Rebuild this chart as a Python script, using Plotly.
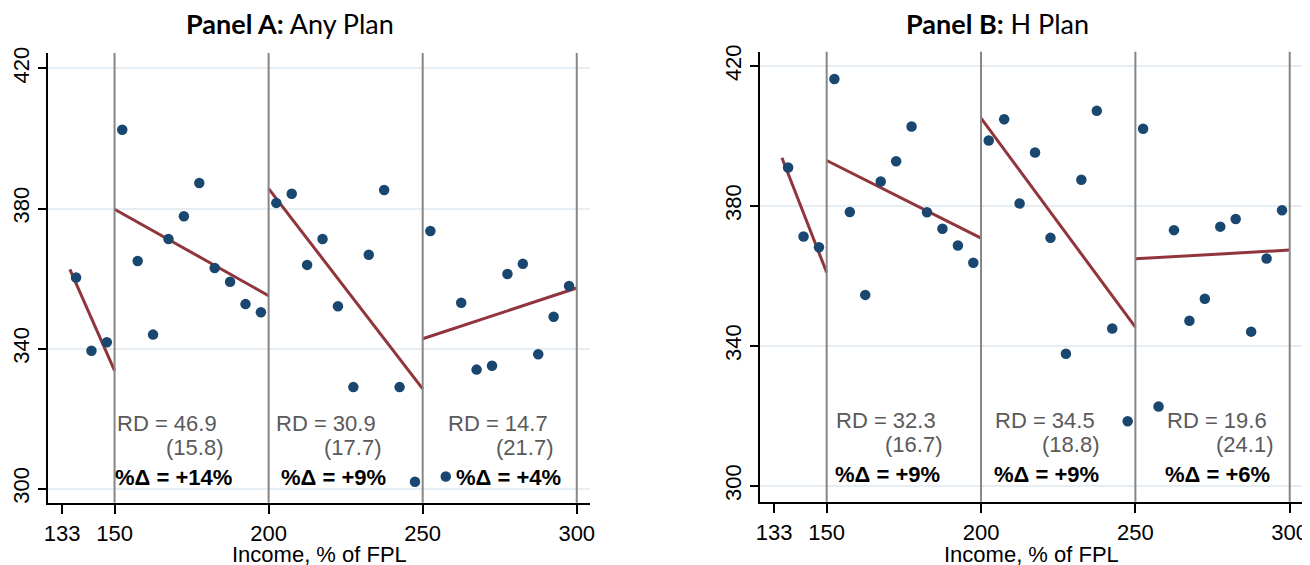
import plotly.graph_objects as go

# ---------------- data ----------------
income_bins = [137.5, 142.5, 147.5,
               152.5, 157.5, 162.5, 167.5, 172.5, 177.5, 182.5, 187.5, 192.5, 197.5,
               202.5, 207.5, 212.5, 217.5, 222.5, 227.5, 232.5, 237.5, 242.5, 247.5,
               252.5, 257.5, 262.5, 267.5, 272.5, 277.5, 282.5, 287.5, 292.5, 297.5]
any_plan = [360.3, 339.4, 341.8,
            402.5, 365.0, 344.0, 371.3, 377.8, 387.3, 363.0, 359.1, 352.7, 350.4,
            381.6, 384.2, 363.9, 371.3, 352.1, 329.0, 366.8, 385.3, 329.0, 302.0,
            373.6, 303.5, 353.1, 334.0, 335.1, 361.3, 364.2, 338.4, 349.1, 357.9]
h_plan = [391.0, 371.3, 368.2,
          416.3, 378.3, 354.6, 387.0, 392.8, 402.7, 378.2, 373.5, 368.7, 363.8,
          398.7, 404.8, 380.7, 395.3, 370.9, 337.8, 387.5, 407.2, 345.0, 318.5,
          402.1, 322.7, 373.1, 347.2, 353.5, 374.1, 376.3, 344.1, 365.0, 378.8]

seg_start = [135.5, 150, 200, 250]
seg_end = [150, 200, 250, 300]
any_fit_start = [362.6, 379.8, 385.7, 342.8]
any_fit_end = [333.7, 355.1, 328.5, 357.3]
h_fit_start = [393.8, 393.0, 405.1, 364.9]
h_fit_end = [361.0, 370.8, 345.4, 367.4]

cutoffs = [150, 200, 250, 300]
x_ticks = [133, 150, 200, 250, 300]
y_ticks = [300, 340, 380, 420]

rd_any = ["46.9", "30.9", "14.7"]
se_any = ["15.8", "17.7", "21.7"]
pct_any = ["+14%", "+9%", "+4%"]
rd_h = ["32.3", "34.5", "19.6"]
se_h = ["16.7", "18.8", "24.1"]
pct_h = ["+9%", "+9%", "+6%"]

titles = ["<b>Panel A:</b> Any Plan", "<b>Panel B:</b> H Plan"]
x_title = "Income, % of FPL"

# ---------------- style / layout ----------------
OFF = 8  # page body margin in the browser
PW, PH = 1310, 565
W, H = PW - OFF, PH - OFF
NAVY = "#1a476f"
MAROON = "#90353b"
GRID = "#e6eef3"
TICKFONT = "Liberation Sans"


def fx(px):
    return (px - OFF) / W


def fy(py):
    return 1 - (py - OFF) / H


# panel page-pixel boxes (left, right, top, bottom)
boxes = [(48, 590, 53, 502.7), (760, 1302.7, 51.7, 501.7)]
xranges = [[128.4, 304.3], [128.4, 304.2]]
yranges = [[296.0, 424.4], [295.5, 424.1]]
title_cx = [290, 997.5]
rd_x = [[150.2, 201.7, 257.5], [152.4, 203.8, 259.6]]
se_x = [[185.9, 237.1, 293.1], [188.0, 238.9, 295.3]]
pct_x = [[169.0, 221.1, 277.8], [169.8, 221.1, 276.7]]

fig = go.Figure()
panels = [(any_plan, any_fit_start, any_fit_end, rd_any, se_any, pct_any),
          (h_plan, h_fit_start, h_fit_end, rd_h, se_h, pct_h)]

annotations = []
shapes = []
for i, (vals, fs, fe, rds, ses, pcts) in enumerate(panels):
    xa = "x" if i == 0 else "x2"
    ya = "y" if i == 0 else "y2"
    for c in cutoffs:
        shapes.append(dict(type="line", xref=xa, yref=f"{ya} domain", x0=c, x1=c, y0=0, y1=1,
                           line=dict(color="#868686", width=2), layer="above"))
    for s0, s1, v0, v1 in zip(seg_start, seg_end, fs, fe):
        fig.add_trace(go.Scatter(x=[s0, s1], y=[v0, v1], mode="lines", xaxis=xa, yaxis=ya,
                                 line=dict(color=MAROON, width=3), showlegend=False,
                                 hoverinfo="skip"))
    fig.add_trace(go.Scatter(x=income_bins, y=vals, mode="markers", xaxis=xa, yaxis=ya,
                             marker=dict(color=NAVY, size=10.5, line=dict(width=0)),
                             showlegend=False))
    for k in range(3):
        annotations.append(dict(xref=xa, yref=ya, x=rd_x[i][k], y=318.7, text=f"RD = {rds[k]}",
                                showarrow=False, xanchor="left", yanchor="middle",
                                font=dict(family=TICKFONT, size=22, color="#5a5a5a")))
        annotations.append(dict(xref=xa, yref=ya, x=se_x[i][k], y=311.8, text=f"({ses[k]})",
                                showarrow=False, xanchor="right", yanchor="middle",
                                font=dict(family=TICKFONT, size=22, color="#5a5a5a")))
        annotations.append(dict(xref=xa, yref=ya, x=pct_x[i][k], y=303.2, text=f"<b>%Δ = {pcts[k]}</b>",
                                showarrow=False, xanchor="center", yanchor="middle",
                                font=dict(family=TICKFONT, size=22, color="#000000")))
    l, r, t, b = boxes[i]
    annotations.append(dict(xref="paper", yref="paper", x=fx(title_cx[i]), y=fy(24),
                            text=titles[i], showarrow=False, xanchor="center", yanchor="middle",
                            font=dict(family="Lato", size=27, color="#000000")))
    annotations.append(dict(xref="paper", yref="paper", x=fx((l + r) / 2), y=fy(554),
                            text=x_title, showarrow=False, xanchor="center", yanchor="middle",
                            font=dict(family=TICKFONT, size=22, color="#000000")))

axis_common_x = dict(tickmode="array", tickvals=x_ticks, ticktext=[str(v) for v in x_ticks],
                     ticks="outside", ticklen=10, tickwidth=1.5, tickcolor="#000",
                     showline=True, linecolor="#000", linewidth=1.5, showgrid=False,
                     zeroline=False, automargin=False, ticklabeloverflow="allow",
                     tickfont=dict(family=TICKFONT, size=22, color="#000"))
axis_common_y = dict(tickmode="array", tickvals=y_ticks, ticktext=[str(v) for v in y_ticks],
                     ticks="outside", ticklen=8, tickwidth=1.5, tickcolor="#000",
                     showline=True, linecolor="#000", linewidth=1.5, showgrid=True,
                     gridcolor=GRID, gridwidth=1.5, zeroline=False, tickangle=-90,
                     automargin=False, ticklabeloverflow="allow",
                     tickfont=dict(family=TICKFONT, size=22, color="#000"))

layout = dict(width=W, height=H, margin=dict(l=0, r=0, t=0, b=0, autoexpand=False),
              paper_bgcolor="white", plot_bgcolor="white", showlegend=False,
              annotations=annotations, shapes=shapes)
for i in range(2):
    l, r, t, b = boxes[i]
    sx = "" if i == 0 else "2"
    layout[f"xaxis{sx}"] = dict(axis_common_x, domain=[fx(l), fx(r)], range=xranges[i],
                                anchor=f"y{sx}")
    layout[f"yaxis{sx}"] = dict(axis_common_y, domain=[fy(b), fy(t)], range=yranges[i],
                                anchor=f"x{sx}")
fig.update_layout(**layout)
fig.write_html("out.html")
